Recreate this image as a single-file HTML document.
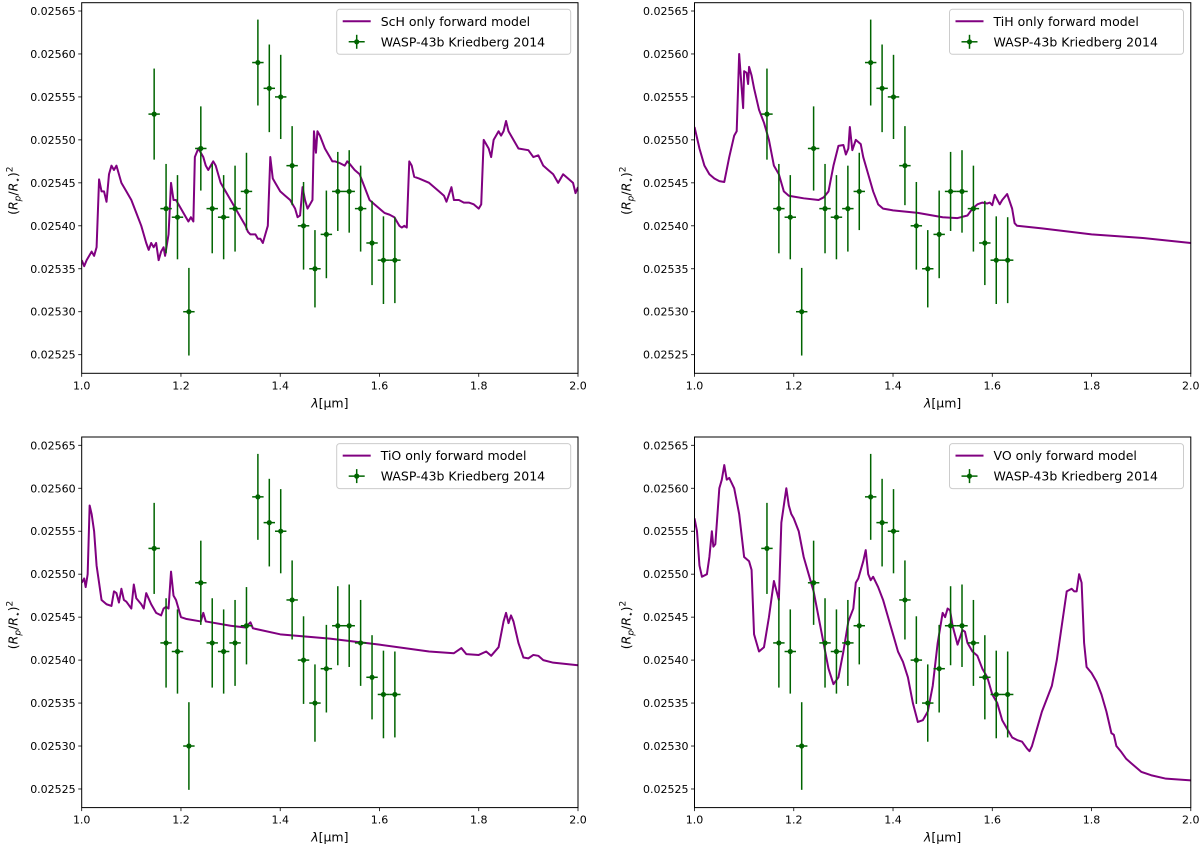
<!DOCTYPE html>
<html><head><meta charset="utf-8">
<style>
html,body{margin:0;padding:0;background:#fff;}
svg{display:block;font-family:"DejaVu Sans","Liberation Sans",sans-serif;}
</style></head>
<body>
<svg id="fig" width="1200" height="847" viewBox="0 0 1200 847" xmlns="http://www.w3.org/2000/svg"></svg>
<script>
// Observed data (shared)
const obsWl = [1.146,1.170,1.193,1.216,1.240,1.263,1.286,1.309,1.332,1.355,1.378,1.401,1.424,1.447,1.470,1.493,1.516,1.539,1.562,1.585,1.608,1.631];
const obsDepth = [0.02553,0.02542,0.02541,0.02530,0.02549,0.02542,0.02541,0.02542,0.02544,0.02559,0.02556,0.02555,0.02547,0.02540,0.02535,0.02539,0.02544,0.02544,0.02542,0.02538,0.02536,0.02536];
const obsErr = [0.0000053,0.0000052,0.0000049,0.0000051,0.0000049,0.0000052,0.0000049,0.0000050,0.0000045,0.0000050,0.0000051,0.0000049,0.0000046,0.0000051,0.0000045,0.0000051,0.0000046,0.0000048,0.0000050,0.0000049,0.0000051,0.0000050].map(v => v * 10);
const obsXErr = 0.0115;

const xTicks = [1.0,1.2,1.4,1.6,1.8,2.0];
const xTickLabels = ["1.0","1.2","1.4","1.6","1.8","2.0"];
const yTicks = [0.02525,0.02530,0.02535,0.02540,0.02545,0.02550,0.02555,0.02560,0.02565];
const yTickLabels = ["0.02525","0.02530","0.02535","0.02540","0.02545","0.02550","0.02555","0.02560","0.02565"];

const schWl = [1.0,1.005,1.01,1.02,1.025,1.03,1.035,1.04,1.045,1.05,1.055,1.06,1.065,1.07,1.08,1.09,1.10,1.11,1.12,1.125,1.13,1.135,1.14,1.145,1.15,1.155,1.16,1.165,1.168,1.175,1.18,1.185,1.19,1.20,1.21,1.215,1.22,1.225,1.228,1.235,1.24,1.245,1.25,1.255,1.26,1.265,1.27,1.28,1.29,1.30,1.31,1.32,1.33,1.335,1.34,1.35,1.355,1.36,1.365,1.37,1.375,1.38,1.385,1.39,1.40,1.41,1.42,1.43,1.435,1.44,1.445,1.45,1.455,1.46,1.465,1.468,1.472,1.475,1.48,1.49,1.50,1.505,1.51,1.52,1.53,1.535,1.54,1.55,1.56,1.57,1.58,1.59,1.60,1.61,1.62,1.63,1.64,1.645,1.65,1.655,1.66,1.665,1.67,1.68,1.70,1.71,1.72,1.73,1.735,1.745,1.75,1.76,1.77,1.78,1.79,1.80,1.805,1.81,1.82,1.825,1.83,1.84,1.845,1.85,1.855,1.86,1.87,1.88,1.90,1.91,1.92,1.93,1.94,1.95,1.96,1.97,1.98,1.99,1.995,2.0];
const schDepth = [0.02536,0.025353,0.02536,0.02537,0.025365,0.025375,0.025454,0.02544,0.02544,0.025428,0.02546,0.02547,0.025465,0.02547,0.02545,0.02544,0.02543,0.025415,0.0254,0.02539,0.02538,0.025372,0.02538,0.025375,0.02538,0.02536,0.02537,0.025375,0.025365,0.02539,0.02545,0.02543,0.02543,0.02542,0.02541,0.025405,0.02541,0.025405,0.02548,0.02549,0.025485,0.02548,0.02547,0.025465,0.02547,0.025475,0.02547,0.02545,0.02544,0.02543,0.02542,0.02541,0.0254,0.025393,0.02539,0.02539,0.025385,0.025385,0.02538,0.02539,0.0254,0.02548,0.025455,0.02545,0.02544,0.025435,0.02543,0.02542,0.02541,0.025412,0.025445,0.02543,0.02542,0.025425,0.02543,0.02551,0.025485,0.02551,0.025505,0.02549,0.02548,0.025475,0.025475,0.025473,0.02547,0.025475,0.025472,0.025465,0.02546,0.025445,0.02543,0.025425,0.02542,0.025415,0.025413,0.02541,0.0254,0.025398,0.0254,0.025398,0.025475,0.02547,0.025457,0.025455,0.02545,0.025445,0.02544,0.025435,0.025428,0.025445,0.02543,0.02543,0.025427,0.025427,0.025425,0.02542,0.025425,0.0255,0.02549,0.02548,0.0255,0.02551,0.025505,0.02551,0.025522,0.02551,0.0255,0.02549,0.025488,0.02548,0.025482,0.02547,0.025465,0.02546,0.02545,0.02546,0.025455,0.02545,0.025438,0.025445];

const tihWl = [1.0,1.01,1.02,1.03,1.04,1.05,1.06,1.07,1.08,1.085,1.09,1.095,1.098,1.10,1.105,1.108,1.11,1.115,1.12,1.13,1.14,1.15,1.16,1.17,1.18,1.19,1.20,1.22,1.25,1.26,1.27,1.28,1.29,1.30,1.305,1.31,1.313,1.318,1.325,1.335,1.34,1.35,1.36,1.37,1.38,1.40,1.45,1.50,1.53,1.55,1.56,1.57,1.58,1.59,1.595,1.60,1.605,1.615,1.62,1.63,1.64,1.645,1.65,1.70,1.80,1.90,2.0];
const tihDepth = [0.025515,0.02549,0.02547,0.02546,0.025455,0.025452,0.025451,0.02548,0.025505,0.02551,0.0256,0.02556,0.025537,0.02558,0.025578,0.025565,0.025585,0.025575,0.02556,0.025535,0.02552,0.0255,0.02547,0.02546,0.02544,0.025435,0.025434,0.025432,0.02543,0.025433,0.02544,0.02547,0.025493,0.025494,0.025483,0.02549,0.025515,0.025488,0.0255,0.025495,0.02548,0.02546,0.02544,0.025425,0.02542,0.025418,0.025415,0.02541,0.025409,0.025412,0.02542,0.025425,0.025427,0.025426,0.025427,0.025424,0.025436,0.025425,0.02543,0.025437,0.02542,0.025403,0.0254,0.025397,0.02539,0.025386,0.02538];

const tioWl = [1.0,1.005,1.008,1.012,1.016,1.02,1.025,1.03,1.035,1.04,1.05,1.06,1.065,1.07,1.075,1.08,1.085,1.09,1.10,1.105,1.11,1.12,1.125,1.13,1.14,1.15,1.16,1.165,1.17,1.175,1.18,1.185,1.19,1.20,1.21,1.24,1.245,1.25,1.30,1.33,1.34,1.345,1.40,1.50,1.60,1.70,1.75,1.765,1.775,1.80,1.815,1.825,1.84,1.85,1.855,1.86,1.865,1.87,1.88,1.89,1.90,1.91,1.92,1.93,1.95,2.0];
const tioDepth = [0.02549,0.025495,0.025485,0.0255,0.02558,0.02557,0.02555,0.02551,0.02549,0.02547,0.025465,0.025463,0.02548,0.025478,0.025467,0.025483,0.02547,0.025468,0.02546,0.025488,0.025472,0.025465,0.02546,0.025478,0.025465,0.025455,0.025452,0.02546,0.025462,0.02546,0.025503,0.025475,0.02547,0.02545,0.025448,0.025445,0.025455,0.025445,0.02544,0.025438,0.025444,0.025437,0.02543,0.025425,0.025418,0.02541,0.025408,0.025414,0.025407,0.025406,0.02541,0.025405,0.025415,0.025445,0.025455,0.025443,0.025452,0.025445,0.02542,0.025403,0.025402,0.025406,0.025405,0.0254,0.025397,0.025394];

const voWl = [1.0,1.005,1.01,1.015,1.025,1.03,1.035,1.038,1.042,1.05,1.055,1.06,1.065,1.07,1.08,1.09,1.10,1.11,1.115,1.12,1.13,1.14,1.15,1.16,1.17,1.175,1.18,1.185,1.19,1.195,1.20,1.21,1.22,1.23,1.24,1.25,1.26,1.27,1.28,1.29,1.30,1.31,1.32,1.325,1.33,1.34,1.345,1.35,1.355,1.36,1.37,1.38,1.39,1.40,1.41,1.42,1.43,1.44,1.45,1.46,1.47,1.48,1.49,1.50,1.505,1.51,1.515,1.52,1.53,1.54,1.545,1.55,1.56,1.57,1.58,1.59,1.60,1.61,1.62,1.63,1.64,1.65,1.66,1.67,1.675,1.68,1.69,1.70,1.72,1.73,1.74,1.75,1.76,1.765,1.77,1.775,1.78,1.785,1.79,1.80,1.81,1.82,1.83,1.84,1.845,1.85,1.86,1.87,1.88,1.90,1.92,1.95,2.0];
const voDepth = [0.025565,0.02555,0.02551,0.025497,0.0255,0.02552,0.02555,0.025532,0.025535,0.0256,0.02561,0.025627,0.02561,0.025612,0.0256,0.02557,0.02552,0.025515,0.025505,0.02543,0.02541,0.025415,0.02545,0.025492,0.02547,0.02556,0.02558,0.0256,0.02558,0.02557,0.025565,0.02555,0.02552,0.0255,0.02548,0.02545,0.02542,0.02539,0.025372,0.02538,0.02541,0.025445,0.02546,0.02549,0.025495,0.025515,0.025528,0.0255,0.025493,0.025497,0.025485,0.02547,0.02545,0.02543,0.02541,0.025398,0.02538,0.02535,0.025328,0.02533,0.02534,0.02537,0.02542,0.025455,0.02545,0.02546,0.025458,0.02544,0.025418,0.025435,0.025433,0.02542,0.02541,0.025405,0.02539,0.02538,0.02536,0.02535,0.02533,0.02532,0.02531,0.025307,0.025305,0.025297,0.025294,0.0253,0.02532,0.02534,0.02537,0.0254,0.02544,0.02548,0.025483,0.02548,0.02548,0.0255,0.02549,0.02542,0.025392,0.025385,0.025375,0.02536,0.02534,0.025315,0.025313,0.0253,0.025293,0.025285,0.02528,0.02527,0.025266,0.025262,0.02526];

const NS = "http://www.w3.org/2000/svg";
const fig = document.getElementById('fig');
function mk(tag, attrs, parent){
  const e = document.createElementNS(NS, tag);
  for (const k in attrs) e.setAttribute(k, attrs[k]);
  parent.appendChild(e);
  return e;
}

function drawPanel(key, label, left, top, wl, depth){
  const W = 496.3, H = 370.6;
  const xS = v => left + (v - 1.0) / 1.0 * W;
  const yS = v => top + 8.3 + (0.02565 - v) / 0.00005 * 42.96;
  const g = mk('g', {}, fig);
  
  
  const clipId = 'clip-' + key;
  const cp = mk('clipPath', {id: clipId}, g);
  mk('rect', {x: left, y: top, width: W, height: H}, cp);

  let d = '';
  for (let i = 0; i < wl.length; i++) d += (i ? 'L' : 'M') + xS(wl[i]).toFixed(2) + ',' + yS(depth[i]).toFixed(2);
  const line = mk('path', {d: d, fill: 'none', stroke: '#800080', 'stroke-width': 2, 'stroke-linejoin': 'round', 'clip-path': 'url(#' + clipId + ')'}, g);
  
  

  for (let i = 0; i < obsWl.length; i++) {
    const pg = mk('g', {}, g);
    
    
    const cx = xS(obsWl[i]), cy = yS(obsDepth[i]);
    mk('line', {x1: cx, x2: cx, y1: yS(obsDepth[i] + obsErr[i]), y2: yS(obsDepth[i] - obsErr[i]), stroke: '#006400', 'stroke-width': 1.5}, pg);
    mk('line', {x1: xS(obsWl[i] - obsXErr), x2: xS(obsWl[i] + obsXErr), y1: cy, y2: cy, stroke: '#006400', 'stroke-width': 1.5}, pg);
    mk('circle', {cx: cx, cy: cy, r: 2.6, fill: '#006400'}, pg);
  }

  const fr = mk('rect', {x: left, y: top, width: W, height: H, fill: 'none', stroke: '#000', 'stroke-width': 1}, g);
  
  

  for (let i = 0; i < xTicks.length; i++) {
    const x = xS(xTicks[i]);
    mk('line', {x1: x, x2: x, y1: top + H, y2: top + H + 3.5, stroke: '#000', 'stroke-width': 0.8}, g);
    const t = mk('text', {x: x, y: top + H + 16, 'text-anchor': 'middle', 'font-size': 11, fill: '#000'}, g);
    t.textContent = xTickLabels[i];
    
    
  }
  for (let i = 0; i < yTicks.length; i++) {
    const y = yS(yTicks[i]);
    mk('line', {x1: left - 3.5, x2: left, y1: y, y2: y, stroke: '#000', 'stroke-width': 0.8}, g);
    const t = mk('text', {x: left - 6, y: y + 4, 'text-anchor': 'end', 'font-size': 11, fill: '#000'}, g);
    t.textContent = yTickLabels[i];
    
    
  }
  const xt = mk('text', {x: left + W / 2, y: top + H + 34, 'text-anchor': 'middle', 'font-size': 12.5, fill: '#000'}, g);
  xt.innerHTML = '<tspan font-style="italic">λ</tspan>[μm]';
  
  
  const yx = left - 64, yy = top + 188;
  const yt = mk('text', {x: yx, y: yy, 'text-anchor': 'middle', 'font-size': 12.5, fill: '#000', transform: 'rotate(-90 ' + yx + ' ' + yy + ')'}, g);
  yt.innerHTML = '(<tspan font-style="italic">R</tspan><tspan font-size="9" dy="3" font-style="italic">p</tspan><tspan dy="-3">/</tspan><tspan font-style="italic">R</tspan><tspan font-size="9" dy="3">⋆</tspan><tspan dy="-3">)</tspan><tspan font-size="9" dy="-5">2</tspan>';
  
  

  const lg = mk('g', {}, g);
  
  
  const lx = left + 255, ly = top + 6.6;
  mk('rect', {x: lx, y: ly, width: 234, height: 45, rx: 3, fill: '#fff', 'fill-opacity': 0.8, stroke: '#ccc', 'stroke-width': 1}, lg);
  mk('line', {x1: lx + 6, x2: lx + 34, y1: ly + 12, y2: ly + 12, stroke: '#800080', 'stroke-width': 2}, lg);
  const t1 = mk('text', {x: lx + 44, y: ly + 16.5, 'font-size': 12.5, fill: '#000'}, lg);
  t1.textContent = label + ' only forward model';
  
  
  const my = ly + 32.5, mx = lx + 20;
  mk('line', {x1: mx, x2: mx, y1: my - 7, y2: my + 7, stroke: '#006400', 'stroke-width': 1.5}, lg);
  mk('line', {x1: mx - 8, x2: mx + 8, y1: my, y2: my, stroke: '#006400', 'stroke-width': 1.5}, lg);
  mk('circle', {cx: mx, cy: my, r: 2.6, fill: '#006400'}, lg);
  const t2 = mk('text', {x: lx + 44, y: my + 4.5, 'font-size': 12.5, fill: '#000'}, lg);
  t2.textContent = 'WASP-43b Kriedberg 2014';
  
  
}

drawPanel('sch', 'ScH', 81.7, 2.7, schWl, schDepth);
drawPanel('tih', 'TiH', 694.5, 2.7, tihWl, tihDepth);
drawPanel('tio', 'TiO', 81.7, 437, tioWl, tioDepth);
drawPanel('vo', 'VO', 694.5, 437, voWl, voDepth);
</script>
</body></html>
